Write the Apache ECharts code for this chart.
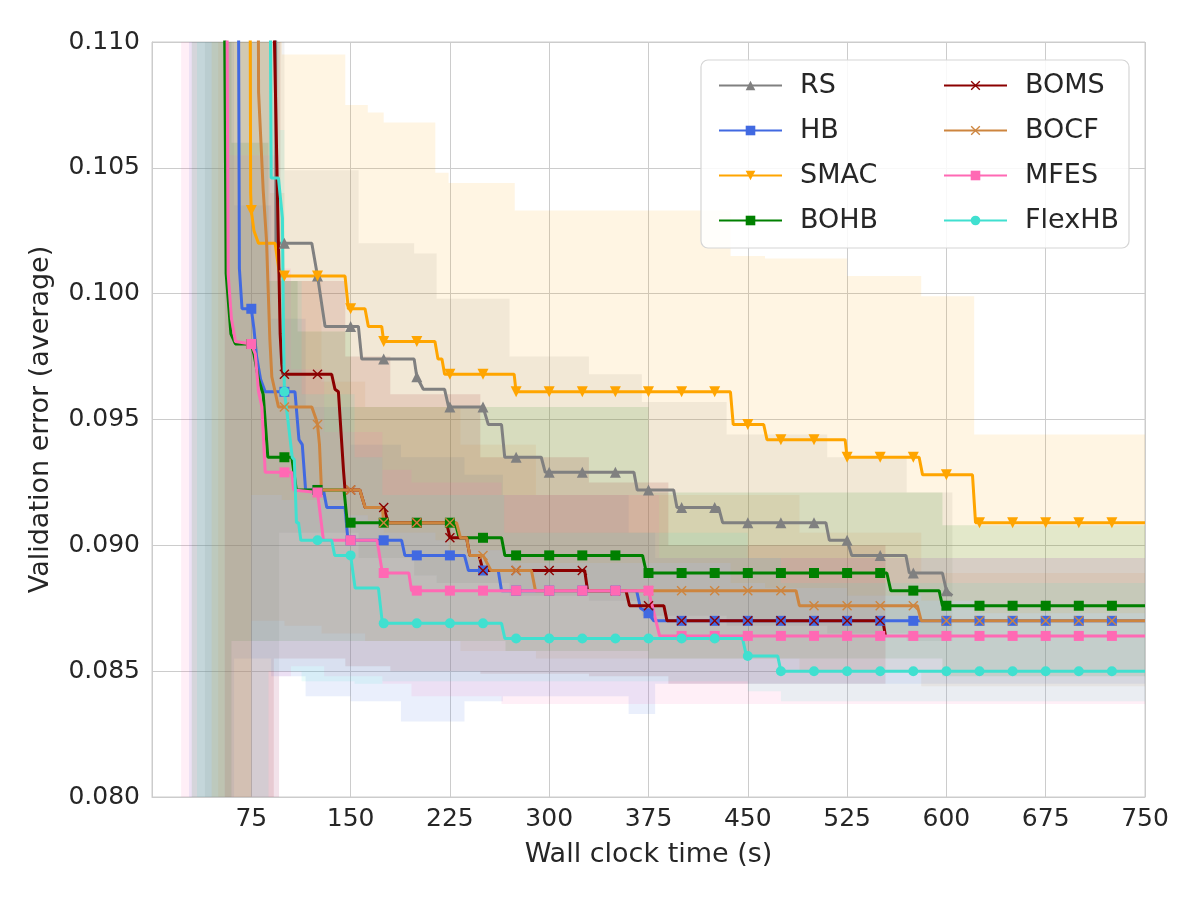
<!DOCTYPE html>
<html><head><meta charset="utf-8">
<script src="https://cdn.jsdelivr.net/npm/echarts/dist/echarts.min.js"></script>
<style>html,body{margin:0;padding:0;background:#fff}#c{width:1200px;height:900px}</style>
</head><body><div id="c"></div>
<script>
// ---- data (time in s, validation error) ----
const xTicks = [75,150,225,300,375,450,525,600,675,750];
const yTicks = [0.080,0.085,0.090,0.095,0.100,0.105,0.110];
const methods = ['RS','HB','SMAC','BOHB','BOMS','BOCF','MFES','FlexHB'];

const RS_line = [[93,0.125],[93.6,0.1020],[100,0.1020],[120.7,0.1020],[125,0.1007],[130.7,0.0987],[150,0.0987],[155.9,0.0987],[158.4,0.0974],[175,0.0974],[198,0.0974],[200,0.0967],[204.9,0.0962],[221,0.0962],[224,0.0955],[225,0.0955],[250,0.0955],[251.5,0.0955],[254,0.0948],[264,0.0948],[266.4,0.0935],[275,0.0935],[294,0.0935],[297,0.0929],[300,0.0929],[325,0.0929],[350,0.0929],[364,0.0929],[366.5,0.0922],[375,0.0922],[394,0.0922],[396.5,0.0915],[400,0.0915],[425,0.0915],[428,0.0915],[431,0.0909],[450,0.0909],[475,0.0909],[500,0.0909],[509,0.0909],[511.6,0.0902],[525,0.0902],[528.5,0.0896],[550,0.0896],[569.4,0.0896],[572,0.0889],[575,0.0889],[597,0.0889],[600,0.0882],[604.5,0.0880]];
const HB_line = [[64.5,0.125],[66,0.1010],[68,0.0994],[75,0.0994],[77,0.0986],[79,0.0975],[82,0.0966],[85.5,0.0961],[100,0.0961],[108,0.0961],[111,0.0942],[113.5,0.0940],[116,0.0922],[125,0.0922],[129.5,0.0922],[132,0.0915],[145.8,0.0915],[148,0.0902],[150,0.0902],[175,0.0902],[188.5,0.0902],[191,0.0896],[200,0.0896],[225,0.0896],[236,0.0896],[239,0.0890],[250,0.0890],[261.5,0.0890],[264,0.0882],[275,0.0882],[300,0.0882],[325,0.0882],[350,0.0882],[366,0.0882],[369,0.0875],[375,0.0873],[379,0.0870],[400,0.0870],[425,0.0870],[450,0.0870],[475,0.0870],[500,0.0870],[525,0.0870],[550,0.0870],[575,0.0870],[600,0.0870],[625,0.0870],[650,0.0870],[675,0.0870],[700,0.0870],[725,0.0870],[750,0.0870]];
const SMAC_line = [[73.5,0.125],[74.5,0.1040],[75,0.1033],[77,0.1025],[80.4,0.1020],[93,0.1020],[96.5,0.1007],[100,0.1007],[125,0.1007],[145.8,0.1007],[148.3,0.0994],[150,0.0994],[160.9,0.0994],[163.4,0.0987],[173.5,0.0987],[175,0.0981],[200,0.0981],[213.7,0.0981],[216,0.0974],[219,0.0974],[221,0.0968],[225,0.0968],[250,0.0968],[273.5,0.0968],[275,0.0961],[300,0.0961],[325,0.0961],[350,0.0961],[375,0.0961],[400,0.0961],[425,0.0961],[436.9,0.0961],[439,0.0948],[450,0.0948],[462,0.0948],[464.5,0.0942],[475,0.0942],[500,0.0942],[523.5,0.0942],[525,0.0935],[550,0.0935],[575,0.0935],[579.4,0.0935],[582,0.0928],[600,0.0928],[619.7,0.0928],[622,0.0909],[625,0.0909],[650,0.0909],[675,0.0909],[700,0.0909],[725,0.0909],[750,0.0909]];
const BOHB_line = [[53,0.125],[55,0.1095],[56,0.1008],[59.6,0.0984],[63,0.0980],[75,0.0980],[77,0.0976],[80.5,0.0966],[84,0.0960],[87.5,0.0935],[100,0.0935],[105.6,0.0935],[109,0.0922],[125,0.0922],[145,0.0922],[147.5,0.0909],[150,0.0909],[175,0.0909],[200,0.0909],[225,0.0909],[229,0.0909],[232,0.0903],[250,0.0903],[264,0.0903],[266.5,0.0896],[275,0.0896],[300,0.0896],[325,0.0896],[350,0.0896],[370.5,0.0896],[373.5,0.0889],[375,0.0889],[400,0.0889],[425,0.0889],[450,0.0889],[475,0.0889],[500,0.0889],[525,0.0889],[550,0.0889],[555,0.0889],[558,0.0882],[575,0.0882],[594.5,0.0882],[597,0.0876],[600,0.0876],[625,0.0876],[650,0.0876],[675,0.0876],[700,0.0876],[725,0.0876],[750,0.0876]];
const BOMS_line = [[92,0.125],[92.5,0.110],[96.8,0.0984],[98,0.0972],[99,0.0968],[100,0.0968],[125,0.0968],[135.7,0.0968],[138.2,0.0962],[140.8,0.0961],[144.6,0.0930],[145.8,0.0922],[150,0.0922],[157,0.0922],[161,0.0915],[175,0.0915],[178.5,0.0909],[200,0.0909],[222.5,0.0909],[225,0.0903],[237.6,0.0903],[240,0.0896],[247,0.0896],[250,0.0890],[275,0.0890],[300,0.0890],[325,0.0890],[326.8,0.0890],[329,0.0882],[350,0.0882],[358,0.0882],[360.7,0.0876],[375,0.0876],[386.6,0.0876],[389,0.0870],[400,0.0870],[425,0.0870],[450,0.0870],[475,0.0870],[500,0.0870],[525,0.0870],[550,0.0870],[552,0.0870],[554,0.0864]];
const BOCF_line = [[79.5,0.125],[80.5,0.108],[84,0.1041],[86.5,0.1021],[89,0.0982],[90.5,0.0967],[95.5,0.0955],[100,0.0955],[120.7,0.0955],[124,0.0950],[125,0.0948],[126.5,0.0940],[128,0.0922],[150,0.0922],[157,0.0922],[161,0.0915],[174,0.0915],[175,0.0909],[200,0.0909],[225,0.0909],[230,0.0909],[233,0.0903],[237.6,0.0903],[240,0.0896],[250,0.0896],[251,0.0896],[256,0.0890],[275,0.0890],[286.6,0.0890],[289.6,0.0882],[300,0.0882],[325,0.0882],[350,0.0882],[375,0.0882],[400,0.0882],[425,0.0882],[450,0.0882],[475,0.0882],[486.4,0.0882],[489,0.0876],[500,0.0876],[525,0.0876],[550,0.0876],[575,0.0876],[578,0.0876],[581,0.0870],[600,0.0870],[625,0.0870],[650,0.0870],[675,0.0870],[700,0.0870],[725,0.0870],[750,0.0870]];
const MFES_line = [[55.5,0.125],[57.5,0.1008],[60,0.0990],[63,0.0981],[75,0.0980],[78,0.0976],[80.5,0.0961],[83,0.0955],[85.5,0.0929],[100,0.0929],[105.6,0.0929],[107,0.0922],[125,0.0921],[126.5,0.0921],[129.5,0.0902],[150,0.0902],[170,0.0902],[174,0.0889],[175,0.0889],[194,0.0889],[196,0.0882],[200,0.0882],[225,0.0882],[250,0.0882],[275,0.0882],[300,0.0882],[325,0.0882],[350,0.0882],[375,0.0882],[383.4,0.0864],[400,0.0864],[425,0.0864],[450,0.0864],[475,0.0864],[500,0.0864],[525,0.0864],[550,0.0864],[575,0.0864],[600,0.0864],[625,0.0864],[650,0.0864],[675,0.0864],[700,0.0864],[725,0.0864],[750,0.0864]];
const FlexHB_line = [[88.5,0.125],[89.5,0.110],[90,0.1046],[95.5,0.1046],[98.5,0.1030],[99.3,0.0986],[100,0.0961],[102.6,0.0950],[105.9,0.0935],[107.5,0.0934],[109.1,0.0909],[110.7,0.0909],[112.4,0.0902],[125,0.0902],[135.7,0.0902],[138,0.0896],[150,0.0896],[151.5,0.0896],[153.4,0.0883],[171,0.0883],[174,0.0869],[175,0.0869],[200,0.0869],[225,0.0869],[250,0.0869],[264,0.0869],[266.5,0.0863],[275,0.0863],[300,0.0863],[325,0.0863],[350,0.0863],[375,0.0863],[400,0.0863],[425,0.0863],[446,0.0863],[449,0.0856],[450,0.0856],[472.6,0.0856],[475,0.0850],[500,0.0850],[525,0.0850],[550,0.0850],[575,0.0850],[600,0.0850],[625,0.0850],[650,0.0850],[675,0.0850],[700,0.0850],[725,0.0850],[750,0.0850]];

// bands: [start time, lower, upper] held until next start; last entry = end time
const RS_band = [[40,0.070,0.130],[96,0.0905,0.130],[100,0.0905,0.1049],[156,0.0895,0.1020],[198,0.0888,0.1016],[215,0.0885,0.0998],[270,0.0880,0.0975],[330,0.0878,0.0968],[370,0.0872,0.0957],[434,0.0868,0.0944],[510,0.0865,0.0935],[570,0.0862,0.0921],[604.5]];
const HB_band = [[28,0.070,0.130],[62,0.0855,0.1035],[90,0.0848,0.0990],[116,0.0840,0.0955],[150,0.0838,0.0940],[188,0.0830,0.0935],[236,0.0838,0.0928],[265,0.0840,0.0920],[360,0.0833,0.0905],[380,0.0845,0.0895],[750]];
const SMAC_band = [[45,0.070,0.130],[75,0.0920,0.130],[98,0.0918,0.1095],[146,0.0912,0.1075],[163,0.0910,0.1072],[175,0.0905,0.1068],[214,0.0902,0.1048],[224,0.0898,0.1044],[274,0.0893,0.1033],[437,0.0885,0.1015],[463,0.0883,0.1014],[525,0.0880,0.1007],[581,0.0878,0.0999],[621,0.0873,0.0944],[750]];
const BOHB_band = [[30,0.070,0.130],[60,0.0862,0.1060],[88,0.0862,0.1005],[110,0.0862,0.0985],[150,0.0862,0.0955],[267,0.0858,0.0955],[375,0.0855,0.0921],[597,0.0848,0.0908],[750]];
const BOMS_band = [[55,0.070,0.130],[92,0.0855,0.130],[97,0.0855,0.1005],[146,0.0852,0.0975],[180,0.0850,0.0960],[248,0.0849,0.0935],[330,0.0848,0.0925],[390,0.0845,0.0900],[554]];
const BOCF_band = [[50,0.070,0.130],[75,0.0870,0.130],[89,0.0870,0.1040],[100,0.0868,0.1005],[128,0.0865,0.0965],[161,0.0862,0.0955],[233,0.0858,0.0940],[290,0.0855,0.0920],[489,0.0850,0.0905],[581,0.0844,0.0889],[750]];
const MFES_band = [[22,0.070,0.130],[57,0.070,0.1055],[96,0.0848,0.1010],[105,0.0852,0.0970],[130,0.0848,0.0945],[174,0.0845,0.0930],[196,0.0840,0.0925],[264,0.0837,0.0920],[383,0.0837,0.0895],[750]];
const FlexHB_band = [[34,0.070,0.130],[88,0.0850,0.130],[96,0.0850,0.1065],[100,0.0850,0.1005],[113,0.0846,0.0960],[153,0.0845,0.0935],[174,0.0846,0.0920],[266,0.0846,0.0905],[450,0.0842,0.0895],[475,0.0838,0.0885],[750]];

// ---- styling ----
const FONT = 'DejaVu Sans';
const TXT = '#262626';
const GRIDC = '#cccccc';
const colors = {RS:'#808080',HB:'#4169E1',SMAC:'#FFA500',BOHB:'#008000',BOMS:'#8B0000',BOCF:'#CD853F',MFES:'#FF69B4',FlexHB:'#40E0D0'};
const XSYM = 'path://M0,1 L1,0 L5,4 L9,0 L10,1 L6,5 L10,9 L9,10 L5,6 L1,10 L0,9 L4,5 Z';
const symbols = {RS:['triangle',11],HB:['rect',10],SMAC:['path://M0,0 L10,0 L5,9 Z',11],BOHB:['rect',10],BOMS:[XSYM,10],BOCF:[XSYM,10],MFES:['rect',10],FlexHB:['circle',10]};
const lines = {RS:RS_line,HB:HB_line,SMAC:SMAC_line,BOHB:BOHB_line,BOMS:BOMS_line,BOCF:BOCF_line,MFES:MFES_line,FlexHB:FlexHB_line};
const bands = {RS:RS_band,HB:HB_band,SMAC:SMAC_band,BOHB:BOHB_band,BOMS:BOMS_band,BOCF:BOCF_band,MFES:MFES_band,FlexHB:FlexHB_band};

const YMIN = 0.080, YMAX = 0.110, XMIN = 0, XMAX = 750;
function rgba(hex, a){const n=parseInt(hex.slice(1),16);return `rgba(${n>>16&255},${n>>8&255},${n&255},${a})`;}
function clampY(v){return Math.max(YMIN, Math.min(YMAX, v));}

function bandSeries(name){
  const band = bands[name];
  return {
    type:'custom', name:name+' band', silent:true, z:1, animation:false,
    coordinateSystem:'cartesian2d',
    data:[[band[0][0], YMIN]],
    renderItem:(params, api)=>{
      const top=[], bot=[];
      for(let i=0;i<band.length-1;i++){
        const t0=band[i][0], t1=band[i+1][0];
        top.push(api.coord([t0, clampY(band[i][2])]), api.coord([t1, clampY(band[i][2])]));
        bot.push(api.coord([t0, clampY(band[i][1])]), api.coord([t1, clampY(band[i][1])]));
      }
      return {type:'polygon', shape:{points:top.concat(bot.reverse())}, style:{fill:rgba(colors[name],0.11)}};
    }
  };
}
function lineSeries(name){
  const [sym,size] = symbols[name];
  return {
    type:'line', name, z:3, animation:false, clip:true,
    symbol:sym, symbolSize:size, showSymbol:true, showAllSymbol:true,
    lineStyle:{width:3, color:colors[name]},
    itemStyle:{color:colors[name]},
    emphasis:{disabled:true},
    data: lines[name].map(p => (p[0]%25===0 && p[0]<750) ? {value:p} : {value:p, symbol:'none'})
  };
}

const series = [];
methods.forEach(m=>series.push(bandSeries(m)));
methods.forEach(m=>series.push(lineSeries(m)));

const legendCommon = {
  orient:'vertical', itemWidth:63, itemHeight:12, itemGap:18, z:60,
  textStyle:{fontSize:27, color:TXT, fontFamily:FONT, padding:[0,0,0,13]},
  inactiveColor:'#ccc', selectedMode:false
};

const chart = echarts.init(document.getElementById('c'), null, {renderer:'canvas'});
chart.setOption({
  backgroundColor:'#ffffff',
  animation:false,
  grid:{left:152, right:55, top:42, bottom:103, show:true, borderColor:GRIDC, borderWidth:1, backgroundColor:'#ffffff'},
  xAxis:{
    type:'value', min:XMIN, max:XMAX, interval:75,
    name:'Wall clock time (s)', nameLocation:'middle', nameGap:44,
    nameTextStyle:{fontSize:27, color:TXT, fontFamily:FONT},
    axisLine:{show:true, lineStyle:{color:GRIDC}}, axisTick:{show:false},
    axisLabel:{fontSize:25, color:TXT, fontFamily:FONT, margin:10,
      formatter:v => xTicks.indexOf(v)>=0 ? String(v) : ''},
    splitLine:{show:true, lineStyle:{color:GRIDC, width:1}}
  },
  yAxis:{
    type:'value', min:YMIN, max:YMAX, interval:0.005,
    name:'Validation error (average)', nameLocation:'middle', nameGap:98,
    nameTextStyle:{fontSize:27, color:TXT, fontFamily:FONT},
    axisLine:{show:true, lineStyle:{color:GRIDC}}, axisTick:{show:false},
    axisLabel:{fontSize:25, color:TXT, fontFamily:FONT, margin:12,
      formatter:v => {const k = yTicks.findIndex(t=>Math.abs(t-v)<1e-9); return k>=0 ? yTicks[k].toFixed(3) : '';}},
    splitLine:{show:true, lineStyle:{color:GRIDC, width:1}}
  },
  graphic:[{type:'rect', z:50, shape:{x:701, y:60, width:428, height:188, r:7},
    style:{fill:'rgba(255,255,255,0.85)', stroke:'#d5d5d5', lineWidth:1.2}}],
  legend:[
    Object.assign({data:['RS','HB','SMAC','BOHB'], left:713, top:67}, legendCommon),
    Object.assign({data:['BOMS','BOCF','MFES','FlexHB'], left:938, top:67}, legendCommon)
  ],
  series
});
</script>
</body></html>
